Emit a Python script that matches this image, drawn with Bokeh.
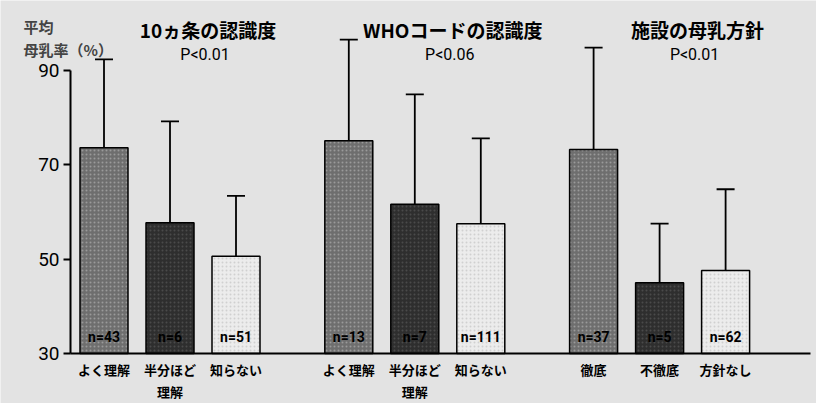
from bokeh.plotting import figure
from bokeh.models import ColumnDataSource, Whisker, TeeHead, FixedTicker, Label
from bokeh.core.properties import value
from bokeh.embed import file_html
from bokeh.resources import INLINE

# ---- data ----
groups = ["10ヵ条の認識度", "WHOコードの認識度", "施設の母乳方針"]
p_values = ["P<0.01", "P<0.06", "P<0.01"]
cats_g1 = ["よく理解", "半分ほど\n理解", "知らない"]
cats_g2 = ["よく理解", "半分ほど\n理解", "知らない"]
cats_g3 = ["徹底", "不徹底", "方針なし"]
means_g1 = [73.6, 57.7, 50.6]
means_g2 = [75.1, 61.6, 57.5]
means_g3 = [73.2, 45.0, 47.6]
sd_g1 = [18.7, 21.5, 12.8]
sd_g2 = [21.4, 23.3, 18.1]
sd_g3 = [21.6, 12.5, 17.2]
n_g1 = ["n=43", "n=6", "n=51"]
n_g2 = ["n=13", "n=7", "n=111"]
n_g3 = ["n=37", "n=5", "n=62"]
y_ticks = [30, 50, 70, 90]

# ---- layout / style constants ----
ITEM_STEP = 1.1
GROUP_STEP = 4.08
BAR_W = 0.8
BG = "#e3e3e3"
FILLS = ["#6e6e6e", "#2e2e2e", "#ececec"]
HATCH = ["#9a9a9a", "#4a4a4a", "#d0d0d0"]
JP = "Noto Sans CJK JP"
NUM = "Liberation Sans Narrow, Roboto, sans-serif"
X0, X1 = -1.725, 11.875
X_AXIS_END = 11.775
Y_AXIS_AT = -0.558
BASE = 30
Y0, Y1 = 19.41, 104.79

all_cats = [cats_g1, cats_g2, cats_g3]
all_means = [means_g1, means_g2, means_g3]
all_sd = [sd_g1, sd_g2, sd_g3]
all_n = [n_g1, n_g2, n_g3]

xs, tops, uppers, fills, hatches, ns, labels = [], [], [], [], [], [], []
for gi in range(3):
    for ji in range(3):
        x = gi * GROUP_STEP + ji * ITEM_STEP
        xs.append(x)
        tops.append(all_means[gi][ji])
        uppers.append(all_means[gi][ji] + all_sd[gi][ji])
        fills.append(FILLS[ji])
        hatches.append(HATCH[ji])
        ns.append(all_n[gi][ji])
        labels.append(all_cats[gi][ji])

src = ColumnDataSource(dict(x=xs, top=tops, upper=uppers, fill=fills,
                            hatch=hatches, n=ns))
gsrc = ColumnDataSource(dict(gx=[gi * GROUP_STEP + ITEM_STEP for gi in range(3)],
                             g=groups, pv=p_values))

p = figure(frame_width=816, frame_height=403, x_range=(X0, X1), y_range=(Y0, Y1),
           output_backend="svg", toolbar_location=None,
           min_border_left=0, min_border_right=0, min_border_top=0, min_border_bottom=0,
           background_fill_color=BG, border_fill_color=BG, outline_line_color=None)
p.xgrid.visible = False
p.ygrid.visible = False

p.vbar(x="x", top="top", bottom=BASE, width=BAR_W, fill_color="fill",
       hatch_pattern="dot", hatch_color="hatch", hatch_scale=4, hatch_weight=1,
       line_color="black", line_width=1.5, source=src)

p.add_layout(Whisker(base="x", upper="upper", lower="top", source=src,
                     dimension="height", line_color="black", line_width=1.8,
                     upper_head=TeeHead(size=18, line_width=1.8, line_color="black"),
                     lower_head=None))

p.text(x="x", y=33.6, text="n", source=src, text_align="center", text_baseline="middle",
       text_font=value(NUM), text_font_size="14px", text_font_style="bold", text_color="black")

p.text(x="gx", y=98.6, text="g", source=gsrc, x_offset=38, text_align="center",
       text_baseline="middle", text_font=value(JP), text_font_size="19px",
       text_font_style="bold", text_color="black")
p.text(x="gx", y=93.3, text="pv", source=gsrc, x_offset=35, text_align="center",
       text_baseline="middle", text_font=value(NUM), text_font_size="16px",
       text_color="black")

# y axis, drawn inside the frame at the left
p.yaxis.fixed_location = Y_AXIS_AT
p.yaxis.ticker = FixedTicker(ticks=y_ticks)
p.yaxis.bounds = (30, 90)
p.yaxis.major_tick_out = 7
p.yaxis.major_tick_in = 0
p.yaxis.minor_tick_out = 0
p.yaxis.minor_tick_in = 0
p.yaxis.axis_line_width = 2
p.yaxis.major_tick_line_width = 2
p.yaxis.major_label_standoff = 4
p.yaxis.major_label_text_font = NUM
p.yaxis.major_label_text_font_size = "19px"
p.yaxis.major_label_text_color = "black"

# x axis (baseline at 30), drawn inside the frame
p.xaxis.fixed_location = BASE
p.xaxis.ticker = FixedTicker(ticks=xs)
p.xaxis.major_label_overrides = {x: lab for x, lab in zip(xs, labels)}
p.xaxis.bounds = (Y_AXIS_AT, X_AXIS_END)
p.xaxis.major_tick_out = 0
p.xaxis.major_tick_in = 0
p.xaxis.minor_tick_out = 0
p.xaxis.minor_tick_in = 0
p.xaxis.axis_line_width = 2
p.xaxis.major_label_standoff = 6
p.xaxis.major_label_text_font = JP
p.xaxis.major_label_text_font_size = "13px"
p.xaxis.major_label_text_font_style = "bold"
p.xaxis.major_label_text_color = "black"

# y axis title (two lines, top-left)
p.add_layout(Label(x=Y_AXIS_AT, y=99.3, x_offset=-47, text="平均", text_font=JP,
                   text_font_size="15px", text_font_style="bold",
                   text_baseline="middle", text_align="left"))
p.add_layout(Label(x=Y_AXIS_AT, y=94.4, x_offset=-47, text="母乳率（%）", text_font=JP,
                   text_font_size="15px", text_font_style="bold",
                   text_baseline="middle", text_align="left"))

open("out.html", "w").write(file_html(p, INLINE))
